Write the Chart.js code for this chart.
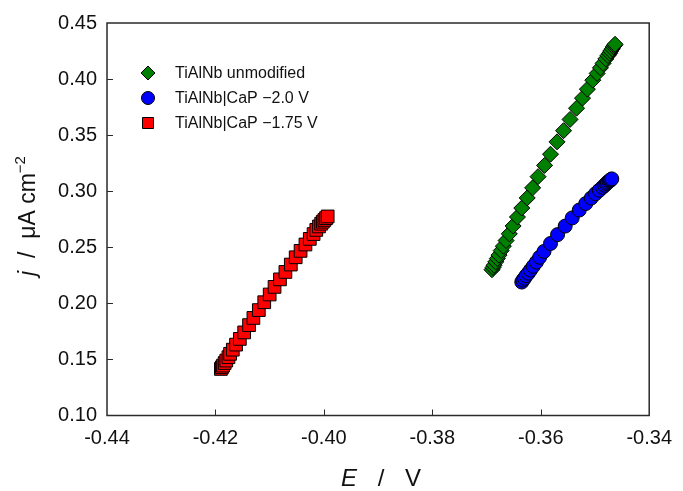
<!DOCTYPE html>
<html>
<head>
<meta charset="utf-8">
<script src="https://cdn.jsdelivr.net/npm/chart.js@4/dist/chart.umd.min.js"></script>
<style>
  body { margin: 0; background: #fff; }
  canvas { display: block; }
</style>
</head>
<body>
<canvas id="chart" width="683" height="491"></canvas>
<script>
// series labels
const seriesLabels = [
    "TiAlNb unmodified",
    "TiAlNb|CaP \u22122.0 V",
    "TiAlNb|CaP \u22121.75 V"
];

// TiAlNb unmodified (E / V, j / uA cm-2)
const unmodE = [
    -0.3690, -0.3688, -0.3686, -0.3683, -0.3680, -0.3677, -0.3673, -0.3669,
    -0.3664, -0.3658, -0.3651, -0.3643, -0.3635, -0.3625, -0.3615, -0.3605,
    -0.3593, -0.3582, -0.3570, -0.3558, -0.3546, -0.3534, -0.3523, -0.3514,
    -0.3504, -0.3496, -0.3490, -0.3485, -0.3480, -0.3476, -0.3473, -0.3471,
    -0.3468, -0.3466, -0.3464, -0.3463
];
const unmodJ = [
    0.230, 0.232, 0.234, 0.237, 0.240, 0.243, 0.247, 0.251,
    0.256, 0.262, 0.269, 0.277, 0.285, 0.294, 0.303, 0.313,
    0.323, 0.333, 0.344, 0.354, 0.364, 0.374, 0.383, 0.391,
    0.399, 0.405, 0.410, 0.414, 0.418, 0.421, 0.423, 0.425,
    0.427, 0.429, 0.430, 0.431
];

// TiAlNb|CaP -2.0 V
const cap20E = [
    -0.3635, -0.3633, -0.3630, -0.3627, -0.3623, -0.3619, -0.3614, -0.3608,
    -0.3602, -0.3594, -0.3582, -0.3569, -0.3555, -0.3542, -0.3529, -0.3517,
    -0.3507, -0.3499, -0.3492, -0.3486, -0.3482, -0.3479, -0.3477, -0.3474,
    -0.3472, -0.3471, -0.3469
];
const cap20J = [
    0.2190, 0.2207, 0.2224, 0.2247, 0.2269, 0.2297, 0.2330, 0.2368,
    0.2411, 0.2463, 0.2534, 0.2613, 0.2689, 0.2762, 0.2832, 0.2890,
    0.2939, 0.2978, 0.3009, 0.3035, 0.3053, 0.3068, 0.3079, 0.3089,
    0.3096, 0.3103, 0.3110
];

// TiAlNb|CaP -1.75 V
const cap175E = [
    -0.4190, -0.4188, -0.4186, -0.4183, -0.4180, -0.4176, -0.4173, -0.4168,
    -0.4162, -0.4155, -0.4147, -0.4138, -0.4130, -0.4120, -0.4110, -0.4100,
    -0.4091, -0.4081, -0.4071, -0.4061, -0.4052, -0.4043, -0.4034, -0.4026,
    -0.4019, -0.4014, -0.4009, -0.4005, -0.4002, -0.3999, -0.3996, -0.3993
];
const cap175J = [
    0.1415, 0.1430, 0.1445, 0.1468, 0.1490, 0.1520, 0.1550, 0.1587,
    0.1632, 0.1683, 0.1741, 0.1806, 0.1870, 0.1940, 0.2010, 0.2079,
    0.2147, 0.2214, 0.2280, 0.2346, 0.2411, 0.2468, 0.2525, 0.2575,
    0.2618, 0.2655, 0.2686, 0.2710, 0.2728, 0.2744, 0.2760, 0.2775
];

// axis ranges / ticks
const xMin = -0.44, xMax = -0.34, xStep = 0.02;
const yMin = 0.10, yMax = 0.45, yStep = 0.05;

function toPoints(xs, ys) {
    return xs.map((x, i) => ({ x: x, y: ys[i] }));
}

const FONT = "'Liberation Sans', Arial, sans-serif";

const markerStyles = [
    { pointStyle: "rectRot", radius: 8, color: "#008000" },
    { pointStyle: "circle", radius: 7, color: "#0000ff" },
    { pointStyle: "rect", radius: 9, color: "#ff0000" }
];

function drawMarker(ctx, style, x, y, r) {
    ctx.save();
    ctx.fillStyle = style.color;
    ctx.strokeStyle = "#000";
    ctx.lineWidth = 1;
    ctx.beginPath();
    if (style.pointStyle === "rectRot") {
        ctx.moveTo(x, y - r);
        ctx.lineTo(x + r, y);
        ctx.lineTo(x, y + r);
        ctx.lineTo(x - r, y);
        ctx.closePath();
    } else if (style.pointStyle === "circle") {
        ctx.arc(x, y, r, 0, Math.PI * 2);
    } else {
        ctx.rect(x - r, y - r, 2 * r, 2 * r);
    }
    ctx.fill();
    ctx.stroke();
    ctx.restore();
}

// frame, inner ticks, legend, axis titles
const decorPlugin = {
    id: "decor",
    afterDraw(chart) {
        const ctx = chart.ctx;
        const a = chart.chartArea;
        const xs = chart.scales.x;
        const ys = chart.scales.y;

        ctx.save();
        ctx.strokeStyle = "#2a2a2a";
        ctx.lineWidth = 1.5;
        ctx.strokeRect(a.left, a.top, a.right - a.left, a.bottom - a.top);

        ctx.lineWidth = 1;
        ctx.beginPath();
        xs.ticks.forEach((t, i) => {
            const px = Math.round(xs.getPixelForTick(i)) + 0.5;
            if (px - a.left < 2 || a.right - px < 2) return;
            ctx.moveTo(px, a.bottom);
            ctx.lineTo(px, a.bottom - 6);
        });
        ys.ticks.forEach((t, i) => {
            const py = Math.round(ys.getPixelForTick(i)) + 0.5;
            if (py - a.top < 2 || a.bottom - py < 2) return;
            ctx.moveTo(a.left, py);
            ctx.lineTo(a.left + 6, py);
        });
        ctx.stroke();
        ctx.restore();

        // legend
        const legendRows = [73, 98, 123];
        const legendSizes = [7, 6.5, 5.5];
        ctx.save();
        ctx.font = "16px " + FONT;
        ctx.fillStyle = "#111";
        ctx.textBaseline = "middle";
        seriesLabels.forEach((label, i) => {
            drawMarker(ctx, markerStyles[i], 148, legendRows[i], legendSizes[i]);
            ctx.fillText(label, 175, legendRows[i] + 1);
        });
        ctx.restore();

        // x title: E / V
        ctx.save();
        ctx.fillStyle = "#111";
        ctx.textBaseline = "middle";
        ctx.textAlign = "center";
        ctx.font = "italic 24px " + FONT;
        ctx.fillText("E", 349, 479);
        ctx.font = "24px " + FONT;
        ctx.fillText("/", 381, 479);
        ctx.fillText("V", 413, 479);
        ctx.restore();

        // y title: j / uA cm-2
        ctx.save();
        ctx.translate(29, 216);
        ctx.rotate(-Math.PI / 2);
        ctx.fillStyle = "#111";
        ctx.textBaseline = "middle";
        const parts = [
            { t: "j", f: "italic 23px " + FONT, dy: 0 },
            { t: "  /  ", f: "23px " + FONT, dy: 0 },
            { t: "\u03bcA cm", f: "23px " + FONT, dy: 0 },
            { t: "\u22122", f: "15px " + FONT, dy: -8 }
        ];
        let total = 0;
        parts.forEach(p => { ctx.font = p.f; p.w = ctx.measureText(p.t).width; total += p.w; });
        let cx = -total / 2;
        parts.forEach(p => {
            ctx.font = p.f;
            ctx.fillText(p.t, cx, p.dy);
            cx += p.w;
        });
        ctx.restore();
    }
};

const datasets = [
    [unmodE, unmodJ],
    [cap20E, cap20J],
    [cap175E, cap175J]
].map((d, i) => ({
    label: seriesLabels[i],
    data: toPoints(d[0], d[1]),
    pointStyle: markerStyles[i].pointStyle,
    pointRadius: markerStyles[i].radius,
    pointBackgroundColor: markerStyles[i].color,
    pointBorderColor: "#000",
    pointBorderWidth: 1,
    showLine: false
}));

new Chart(document.getElementById("chart"), {
    type: "scatter",
    data: { datasets: datasets },
    plugins: [decorPlugin],
    options: {
        responsive: false,
        animation: false,
        layout: { padding: { left: 0, right: 27, top: 23, bottom: 0 } },
        plugins: {
            legend: { display: false },
            tooltip: { enabled: false }
        },
        scales: {
            x: {
                type: "linear",
                min: xMin,
                max: xMax,
                afterFit(scale) { scale.height = 75.5; },
                grid: { display: false, drawTicks: false },
                border: { display: false },
                ticks: {
                    stepSize: xStep,
                    padding: 11,
                    color: "#111",
                    font: { family: FONT, size: 20 },
                    callback: v => v.toFixed(2)
                }
            },
            y: {
                type: "linear",
                min: yMin,
                max: yMax,
                afterFit(scale) { scale.width = 107; },
                grid: { display: false, drawTicks: false },
                border: { display: false },
                ticks: {
                    stepSize: yStep,
                    padding: 10,
                    color: "#111",
                    font: { family: FONT, size: 20 },
                    callback: v => v.toFixed(2)
                }
            }
        }
    }
});
</script>
</body>
</html>
